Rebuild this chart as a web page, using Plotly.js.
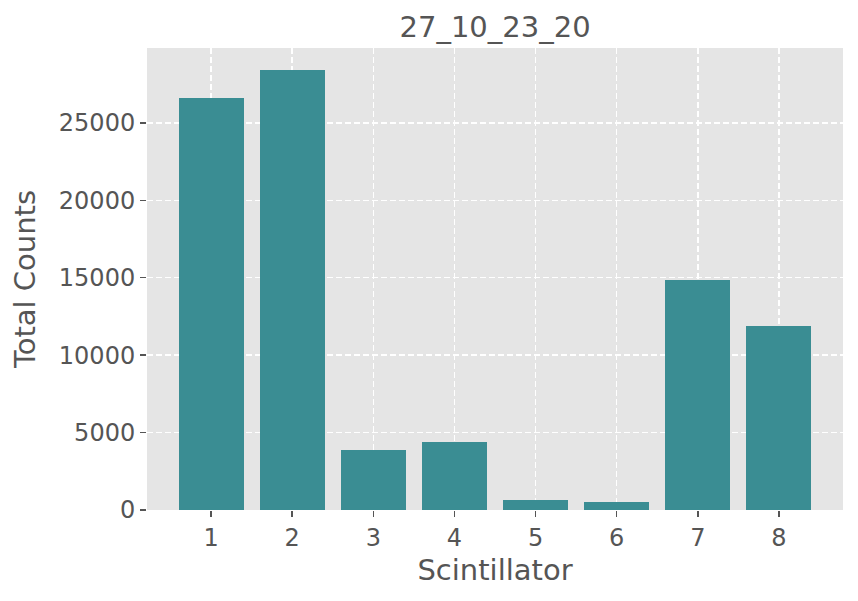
<!DOCTYPE html>
<html>
<head>
<meta charset="utf-8">
<script src="https://cdn.plot.ly/plotly-3.0.1.min.js"></script>
<style>body{margin:0;padding:0;background:#fff;}#chart{width:858px;height:601px;}</style>
</head>
<body>
<div id="chart"></div>
<script>
const scintillators = [1, 2, 3, 4, 5, 6, 7, 8];
const totalCounts = [26600, 28410, 3900, 4420, 670, 540, 14830, 11860];
const tickLabels = ['1', '2', '3', '4', '5', '6', '7', '8'];

const ymax = Math.max(...totalCounts) * 1.05;

Plotly.newPlot('chart', [{
  type: 'bar',
  x: scintillators,
  y: totalCounts,
  width: 0.8,
  marker: {color: '#3a8d93', line: {width: 0}},
  hoverinfo: 'x+y'
}], {
  width: 858, height: 601,
  margin: {l: 147, r: 15, t: 48, b: 91},
  paper_bgcolor: '#ffffff',
  plot_bgcolor: '#e5e5e5',
  font: {family: 'DejaVu Sans, sans-serif', color: '#555555', size: 24},
  title: {text: '27_10_23_20', font: {size: 29, color: '#555555'}, x: 0.577, xanchor: 'center', y: 0.955, yanchor: 'middle'},
  bargap: 0,
  xaxis: {
    range: [0.21, 8.79],
    tickvals: scintillators,
    ticktext: tickLabels,
    ticks: 'outside', ticklen: 6, tickwidth: 1.5, tickcolor: '#555555',
    showgrid: true, gridcolor: '#ffffff', griddash: '6px,3px', gridwidth: 1.5,
    zeroline: false, showline: false,
    tickfont: {size: 24, color: '#555555'},
    title: {text: 'Scintillator', font: {size: 29, color: '#555555'}, standoff: 8}
  },
  yaxis: {
    range: [0, ymax],
    tickvals: [0, 5000, 10000, 15000, 20000, 25000],
    ticktext: ['0', '5000', '10000', '15000', '20000', '25000'],
    ticks: 'outside', ticklen: 6, tickwidth: 1.5, tickcolor: '#555555',
    showgrid: true, gridcolor: '#ffffff', griddash: '6px,3px', gridwidth: 1.5,
    zeroline: false, showline: false,
    tickfont: {size: 24, color: '#555555'},
    title: {text: 'Total Counts', font: {size: 29, color: '#555555'}, standoff: 14}
  },
  showlegend: false
}, {displayModeBar: false, staticPlot: true});
</script>
</body>
</html>
